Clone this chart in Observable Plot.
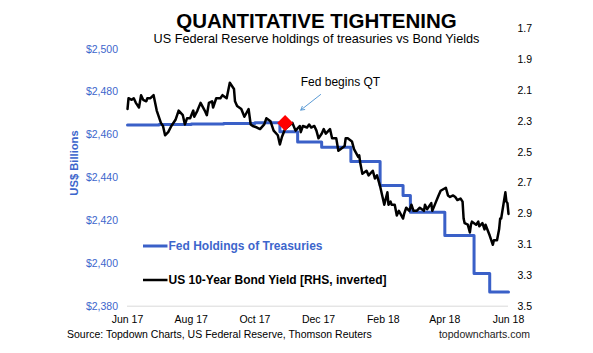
<!DOCTYPE html>
<html>
<head>
<meta charset="utf-8">
<script src="https://cdn.jsdelivr.net/npm/d3@7"></script>
<script src="https://cdn.jsdelivr.net/npm/@observablehq/plot@0.6"></script>
<style>
  html, body { margin: 0; padding: 0; background: #fff; }
  #chart { position: relative; width: 593px; height: 353px; overflow: hidden; font-family: "Liberation Sans", Arial, sans-serif; }
  #chart svg { position: absolute; left: 0; top: 0; }
</style>
</head>
<body>
<div id="chart"></div>
<script>
// ---------- data ----------
const titleText = "QUANTITATIVE TIGHTENING";
const subtitleText = "US Federal Reserve holdings of treasuries vs Bond Yields";
const sourceText = "Source: Topdown Charts, US Federal Reserve, Thomson Reuters";
const siteText = "topdowncharts.com";
const leftAxisTitle = "US$ Billions";
const seriesNames = ["Fed Holdings of Treasuries", "US 10-Year Bond Yield [RHS, inverted]"];

const xTicks = ["2017-06-01", "2017-08-01", "2017-10-01", "2017-12-01", "2018-02-01", "2018-04-01", "2018-06-01"];
const leftTicks = [2380, 2400, 2420, 2440, 2460, 2480, 2500];
const rightTicks = [1.7, 1.9, 2.1, 2.3, 2.5, 2.7, 2.9, 3.1, 3.3, 3.5];

// Fed holdings of treasuries (US$ bn), step series
const fedDates = ["2017-06-01", "2017-07-01", "2017-08-01", "2017-09-01", "2017-10-01", "2017-10-25",
  "2017-11-11", "2017-12-04", "2018-01-01", "2018-01-29", "2018-02-20", "2018-02-27",
  "2018-04-01", "2018-04-29", "2018-05-14", "2018-06-01"];
const fedValues = [2464.6, 2464.8, 2465.1, 2465.3, 2465.6, 2461.5,
  2456.7, 2454.2, 2447.6, 2436.3, 2431.7, 2423.9,
  2413.0, 2395.3, 2386.6, 2386.6];

// US 10-year yield (%)
const yieldDates = [
  "2017-06-01","2017-06-02","2017-06-05","2017-06-07","2017-06-09","2017-06-12","2017-06-14","2017-06-16","2017-06-19","2017-06-20",
  "2017-06-23","2017-06-26","2017-06-29","2017-07-03","2017-07-05","2017-07-07","2017-07-10","2017-07-13","2017-07-17","2017-07-20",
  "2017-07-24","2017-07-26","2017-07-28","2017-07-31","2017-08-03","2017-08-04","2017-08-07","2017-08-10","2017-08-14","2017-08-16",
  "2017-08-18","2017-08-21","2017-08-22","2017-08-25","2017-08-29","2017-08-31","2017-09-04","2017-09-07","2017-09-11","2017-09-12",
  "2017-09-14","2017-09-18","2017-09-21","2017-09-25","2017-09-27","2017-09-29","2017-10-03","2017-10-06","2017-10-10","2017-10-12",
  "2017-10-16","2017-10-19","2017-10-23","2017-10-25","2017-10-27","2017-10-30","2017-11-06","2017-11-09","2017-11-13","2017-11-14",
  "2017-11-16","2017-11-20","2017-11-22","2017-11-24","2017-11-27","2017-11-29","2017-12-01","2017-12-04","2017-12-06","2017-12-08",
  "2017-12-12","2017-12-14","2017-12-18","2017-12-20","2017-12-22","2017-12-26","2017-12-27","2017-12-29","2018-01-02","2018-01-04",
  "2018-01-08","2018-01-09","2018-01-10","2018-01-12","2018-01-16","2018-01-18","2018-01-22","2018-01-24","2018-01-26","2018-01-29",
  "2018-01-31","2018-02-02","2018-02-05","2018-02-06","2018-02-08","2018-02-09","2018-02-12","2018-02-14","2018-02-16","2018-02-20",
  "2018-02-21","2018-02-23","2018-02-26","2018-02-28","2018-03-02","2018-03-05","2018-03-08","2018-03-12","2018-03-13","2018-03-15",
  "2018-03-19","2018-03-20","2018-03-23","2018-03-26","2018-03-28","2018-04-02","2018-04-04","2018-04-06","2018-04-09","2018-04-11",
  "2018-04-13","2018-04-16","2018-04-18","2018-04-19","2018-04-20","2018-04-23","2018-04-25","2018-04-26","2018-04-27","2018-05-01",
  "2018-05-03","2018-05-04","2018-05-07","2018-05-09","2018-05-10","2018-05-14","2018-05-17","2018-05-18","2018-05-21","2018-05-23",
  "2018-05-24","2018-05-25","2018-05-29","2018-05-30","2018-05-31","2018-06-01"];
const yieldValues = [
  2.22,2.15,2.16,2.15,2.18,2.21,2.13,2.16,2.17,2.15,
  2.15,2.13,2.23,2.31,2.33,2.39,2.37,2.33,2.29,2.23,
  2.26,2.32,2.28,2.28,2.23,2.27,2.23,2.18,2.23,2.26,
  2.18,2.17,2.21,2.15,2.15,2.13,2.15,2.05,2.09,2.17,
  2.20,2.22,2.27,2.22,2.32,2.33,2.34,2.35,2.32,2.28,
  2.30,2.36,2.39,2.45,2.40,2.35,2.31,2.36,2.33,2.37,
  2.33,2.34,2.32,2.34,2.33,2.36,2.41,2.38,2.35,2.38,
  2.35,2.41,2.41,2.49,2.48,2.46,2.41,2.41,2.43,2.48,
  2.53,2.52,2.57,2.64,2.62,2.65,2.62,2.67,2.65,2.72,
  2.78,2.84,2.76,2.84,2.82,2.84,2.84,2.91,2.88,2.93,
  2.90,2.86,2.88,2.84,2.88,2.88,2.86,2.88,2.84,2.87,
  2.83,2.88,2.83,2.78,2.75,2.73,2.78,2.79,2.78,2.79,
  2.81,2.80,2.82,2.93,2.96,2.97,3.02,2.97,2.95,2.97,
  2.95,2.98,2.96,3.00,2.97,3.04,3.10,3.07,3.07,3.00,
  2.93,2.93,2.76,2.82,2.83,2.90];

// annotation: QT start marker and label
const qtMarker = [{date: "2017-10-30", value: 2.31}];
const qtLabel = [{date: "2017-12-22", value: 2.043, text: "Fed begins QT"}];
const qtArrow = [{x1: "2017-12-03", y1: 2.126, x2: "2017-11-14", y2: 2.227}];

// ---------- build ----------
const parse = d3.utcParse("%Y-%m-%d");
const fed = fedDates.map((d, i) => ({date: parse(d), value: fedValues[i]}));
const yields = yieldDates.map((d, i) => ({date: parse(d), value: yieldValues[i]}));
const marker = qtMarker.map(d => ({date: parse(d.date), value: d.value}));
const label = qtLabel.map(d => ({...d, date: parse(d.date)}));
const arrow = qtArrow.map(d => ({...d, x1: parse(d.x1), x2: parse(d.x2)}));

const BLUE = "#3a60c8";
const BLUE_TEXT = "#3d66cc";
const FONT = "'Liberation Sans', Arial, sans-serif";
const W = 593, H = 353;
const xDomain = [parse("2017-06-01"), parse("2018-06-01")];

const common = {
  width: W, height: H,
  marginLeft: 127, marginRight: 85,
  style: {background: "transparent", fontFamily: FONT, fontSize: "10.5px", overflow: "visible"}
};

const plotLeft = Plot.plot({
  ...common,
  marginTop: 48.7, marginBottom: 47.3,
  x: {type: "utc", domain: xDomain, label: null},
  y: {domain: [2380, 2500], label: null},
  marks: [
    Plot.ruleY([2380], {stroke: "#d9d9d9", strokeWidth: 1}),
    Plot.axisY(leftTicks, {tickSize: 0, tickPadding: 9.5, color: BLUE_TEXT, fontSize: 10.5,
      tickFormat: d => "$" + d3.format(",")(d), label: null}),
    Plot.axisX(xTicks.map(parse), {tickSize: 0, tickPadding: 9.5, fontSize: 10.5, color: "#000",
      tickFormat: d3.utcFormat("%b %y"), label: null}),
    Plot.line(fed, {x: "date", y: "value", curve: "step-after", stroke: BLUE, strokeWidth: 3})
  ]
});

const plotRight = Plot.plot({
  ...common,
  marginTop: 28.3, marginBottom: 47,
  x: {type: "utc", domain: xDomain, axis: null},
  y: {domain: [1.7, 3.5], reverse: true, label: null},
  marks: [
    Plot.axisY(rightTicks, {anchor: "right", tickSize: 0, tickPadding: 9, fontSize: 10.5, color: "#000",
      tickFormat: d => d.toFixed(1), label: null}),
    Plot.line(yields, {x: "date", y: "value", stroke: "#000", strokeWidth: 2.5, strokeLinejoin: "round"}),
    Plot.dot(marker, {x: "date", y: "value", symbol: "diamond2", r: 7.2, fill: "#ff0000", stroke: "none"}),
    Plot.arrow(arrow, {x1: "x1", y1: "y1", x2: "x2", y2: "y2", stroke: "#5b9bd5", strokeWidth: 1, headLength: 6}),
    Plot.text(label, {x: "date", y: "value", text: "text", fontSize: 12, fill: "#000"})
  ]
});

const chart = document.getElementById("chart");
chart.appendChild(plotLeft);
chart.appendChild(plotRight);

// overlay: titles, legend, source
const svg = d3.select(chart).append("svg")
  .attr("width", W).attr("height", H)
  .style("font-family", FONT);

svg.append("text").attr("x", 316.5).attr("y", 28).attr("text-anchor", "middle")
  .attr("font-size", 20.5).attr("font-weight", "bold").attr("fill", "#000").text(titleText);
svg.append("text").attr("x", 316.5).attr("y", 42.5).attr("text-anchor", "middle")
  .attr("font-size", 12.7).attr("fill", "#000").text(subtitleText);

svg.append("text").attr("transform", "translate(78,163) rotate(-90)").attr("text-anchor", "middle")
  .attr("font-size", 11.2).attr("font-weight", "bold").attr("fill", BLUE_TEXT).text(leftAxisTitle);

const legendColors = [BLUE, "#000"];
const legendTextColors = [BLUE_TEXT, "#000"];
const legendY = [246, 280];
seriesNames.forEach((name, i) => {
  svg.append("line").attr("x1", 143).attr("x2", 167.5).attr("y1", legendY[i]).attr("y2", legendY[i])
    .attr("stroke", legendColors[i]).attr("stroke-width", i === 0 ? 3 : 2.5);
  svg.append("text").attr("x", 168.5).attr("y", legendY[i] + 4.3)
    .attr("font-size", 12).attr("font-weight", "bold").attr("fill", legendTextColors[i]).text(name);
});

svg.append("text").attr("x", 67).attr("y", 338).attr("font-size", 10.5).attr("fill", "#000").text(sourceText);
svg.append("text").attr("x", 530).attr("y", 338).attr("text-anchor", "end")
  .attr("font-size", 10.5).attr("fill", "#222").text(siteText);
</script>
</body>
</html>
